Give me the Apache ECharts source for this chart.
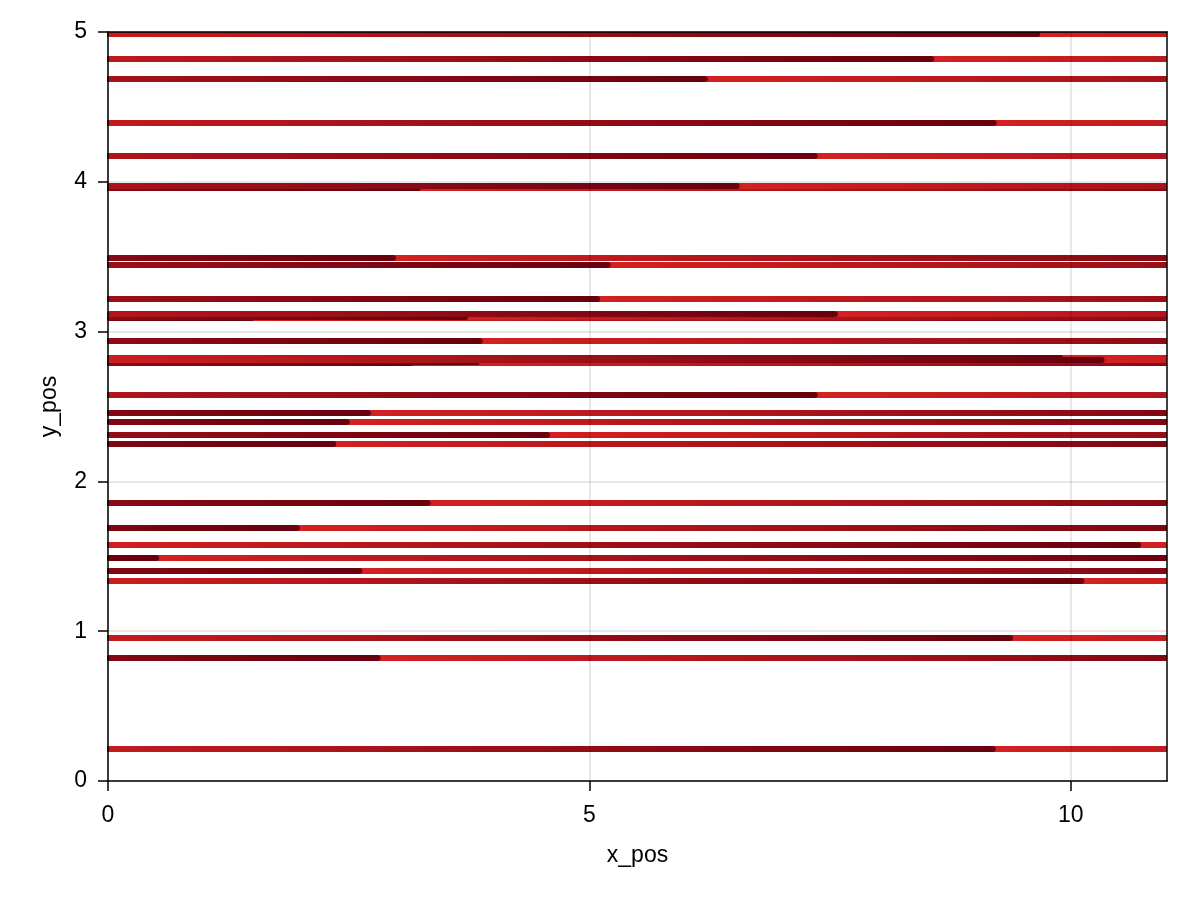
<!DOCTYPE html>
<html>
<head>
<meta charset="utf-8">
<title>lines</title>
<script src="https://cdn.jsdelivr.net/npm/echarts@6/dist/echarts.min.js"></script>
<style>
html, body { margin: 0; padding: 0; background: #fff; }
#chart { width: 1200px; height: 900px; }
</style>
</head>
<body>
<div id="chart"></div>
<script>
// y position of each line (listed in drawing order)
var lineY = [4.99, 4.82, 4.69, 4.395, 4.174, 3.962, 3.975,
    3.496, 3.449, 3.218, 3.093, 3.105, 3.100, 3.118, 2.937,
    2.826, 2.794, 2.801, 2.812, 2.577, 2.459, 2.399, 2.314, 2.25,
    1.858, 1.691, 1.577, 1.493, 1.402, 1.335, 0.957, 0.826, 0.216];
// x where the colour wraps from dark back to bright
var breakX = [9.65, 8.55, 6.20, 9.20, 7.34, 3.22, 6.53,
    2.96, 5.19, 5.08, 1.49, 1.06, 3.71, 7.55, 3.86,
    9.89, 3.14, 3.83, 10.32, 7.34, 2.70, 2.48, 4.56, 2.34,
    3.32, 1.96, 10.70, 0.50, 2.61, 10.11, 9.37, 2.80, 9.19];
var xTicks = [0, 5, 10];
var yTicks = [0, 1, 2, 3, 4, 5];
var xMax = 11;
var period = 11;

var bright = [212, 32, 33];
var dark = [104, 0, 14];

function colorAt(t) {
    var c = [];
    for (var k = 0; k < 3; k++) {
        c[k] = Math.round(bright[k] + (dark[k] - bright[k]) * t);
    }
    return 'rgb(' + c.join(',') + ')';
}

function segment(y, x0, x1, t0, t1, cap) {
    return {
        coords: [[x0, y], [x1, y]],
        lineStyle: {
            width: 6,
            cap: cap,
            opacity: 1,
            color: new echarts.graphic.LinearGradient(0, 0, 1, 0, [
                { offset: 0, color: colorAt(t0) },
                { offset: 1, color: colorAt(t1) }
            ])
        }
    };
}

var segs = [];
for (var i = 0; i < lineY.length; i++) {
    var y = lineY[i], j = breakX[i];
    //亮色段在下,暗色段带圆头压在上面
    segs.push(segment(y, j, xMax, 0, (xMax - j) / period, 'butt'));
    segs.push(segment(y, 0, j, (period - j) / period, 1, 'round'));
}

var font = 'Liberation Sans, Arial, sans-serif';
var tickStyle = { show: true, inside: false, length: 10, lineStyle: { color: '#000', width: 1.5 } };
var gridStyle = { show: true, lineStyle: { color: 'rgba(0,0,0,0.12)', width: 1.5 } };

var myChart = echarts.init(document.getElementById('chart'));
myChart.setOption({
    animation: false,
    backgroundColor: '#fff',
    grid: { left: 108, right: 33, top: 32, bottom: 119, outerBoundsMode: 'none' },
    xAxis: [{
        type: 'value', min: 0, max: xMax, interval: 5, z: 10,
        name: 'x_pos', nameLocation: 'middle', nameGap: 63,
        nameTextStyle: { color: '#000', fontSize: 23, fontFamily: font },
        axisLine: { show: true, onZero: false, lineStyle: { color: '#000', width: 1.5 } },
        axisTick: Object.assign({ customValues: xTicks }, tickStyle),
        axisLabel: { customValues: xTicks, color: '#000', fontSize: 23, fontFamily: font, margin: 23 },
        splitLine: gridStyle
    }, {
        type: 'value', min: 0, max: xMax, position: 'top', z: 10,
        axisLine: { show: true, onZero: false, lineStyle: { color: '#000', width: 1.5 } },
        axisTick: { show: false }, axisLabel: { show: false }, splitLine: { show: false }
    }],
    yAxis: [{
        type: 'value', min: 0, max: 5, interval: 1, z: 10,
        name: 'y_pos', nameLocation: 'middle', nameGap: 47,
        nameTextStyle: { color: '#000', fontSize: 23, fontFamily: font },
        axisLine: { show: true, onZero: false, lineStyle: { color: '#000', width: 1.5 } },
        axisTick: Object.assign({ customValues: yTicks }, tickStyle),
        axisLabel: { customValues: yTicks, color: '#000', fontSize: 23, fontFamily: font, margin: 21 },
        splitLine: gridStyle
    }, {
        type: 'value', min: 0, max: 5, position: 'right', z: 10,
        axisLine: { show: true, onZero: false, lineStyle: { color: '#000', width: 1.5 } },
        axisTick: { show: false }, axisLabel: { show: false }, splitLine: { show: false }
    }],
    series: [{
        type: 'lines',
        coordinateSystem: 'cartesian2d',
        xAxisIndex: 0,
        yAxisIndex: 0,
        polyline: false,
        clip: true,
        silent: true,
        lineStyle: { width: 0.1, opacity: 1 },
        data: segs
    }]
});
window.addEventListener('resize', function () {
    myChart.resize();
});
</script>
</body>
</html>
